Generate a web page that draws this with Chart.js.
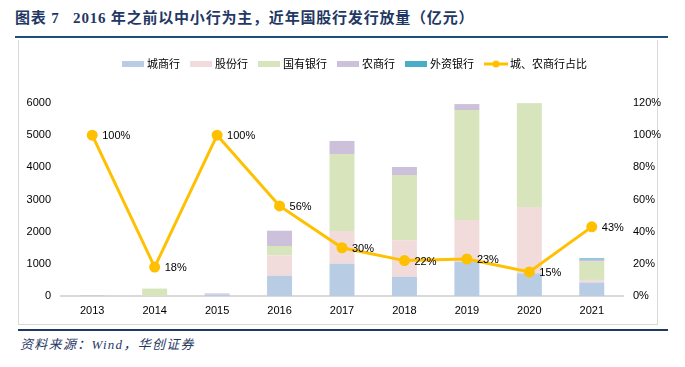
<!DOCTYPE html>
<html>
<head>
<meta charset="utf-8">
<script src="https://cdn.jsdelivr.net/npm/chart.js@4.4.0/dist/chart.umd.min.js"></script>
<style>
  html,body{margin:0;padding:0;background:#fff;}
  body{width:685px;height:367px;position:relative;overflow:hidden;font-family:"Liberation Sans","Noto Sans CJK SC",sans-serif;}
  #title{position:absolute;left:15px;top:6px;font:bold 15px "Liberation Serif","Noto Sans CJK SC",serif;color:#1f3864;white-space:pre;letter-spacing:0.8px;}
  #tline{position:absolute;left:15px;top:36px;width:653px;height:2px;background:#1f4e79;}
  #box{position:absolute;left:18px;top:40px;width:640px;height:285px;border:1px solid #d9d9d9;box-sizing:border-box;border-top:none;}
  #fline{position:absolute;left:18px;top:329px;width:650px;height:2px;background:#1f3864;}
  #source{position:absolute;left:20px;top:334px;font:italic 13px "Liberation Serif","Noto Sans CJK SC",serif;color:#1f3864;white-space:pre;letter-spacing:1.3px;}
  #wrap{position:absolute;left:0;top:0;width:685px;height:367px;}
</style>
</head>
<body>
<div id="title">图表 7   2016 年之前以中小行为主，近年国股行发行放量（亿元）</div>
<div id="tline"></div>
<div id="box"></div>
<div id="fline"></div>
<div id="source">资料来源：Wind，华创证券</div>
<div id="wrap"><canvas id="c" width="685" height="367"></canvas></div>
<script>
const categories = ['2013','2014','2015','2016','2017','2018','2019','2020','2021'];
const cityBanks    = [0, 0, 50, 630, 1005, 600, 1067, 705, 420];
const jointStock   = [0, 0, 0, 635, 1015, 1130, 1295, 2060, 80];
const stateOwned   = [0, 230, 0, 290, 2395, 2030, 3420, 3225, 570];
const ruralBanks   = [15, 0, 30, 475, 405, 250, 185, 40, 60];
const foreignBanks = [0, 0, 0, 0, 0, 0, 0, 0, 40];
const ratio        = [100, 18, 100, 56, 30, 22, 23, 15, 43];
const leftTicks  = [0, 1000, 2000, 3000, 4000, 5000, 6000];
const rightTicks = [0, 20, 40, 60, 80, 100, 120];

const seriesNames = ['城商行','股份行','国有银行','农商行','外资银行','城、农商行占比'];
const colors = ['#b8cce4','#f2dcdb','#d7e4bc','#ccc0da','#4bacc6','#ffc000'];

const barSets = [cityBanks, jointStock, stateOwned, ruralBanks, foreignBanks].map((d,i)=>({
  type:'bar', label: seriesNames[i], data: d, backgroundColor: colors[i],
  stack:'s', yAxisID:'y', order: 2, barPercentage: 0.4, categoryPercentage: 1.0
}));

const lineSet = {
  type:'line', label: seriesNames[5], data: ratio, yAxisID:'y1', order: 0,
  borderColor: colors[5], backgroundColor: colors[5], borderWidth: 3,
  pointRadius: 4, pointHoverRadius: 4, tension: 0
};

const legendPlugin = {
  id:'customLegend',
  afterDraw(chart){
    const ctx = chart.ctx;
    ctx.save();
    ctx.font = '11px "Noto Sans CJK SC", sans-serif';
    ctx.textBaseline = 'middle';
    let x = 122; const y = 64;
    seriesNames.forEach((name,i)=>{
      if(i<5){
        ctx.fillStyle = colors[i];
        ctx.fillRect(x, y-3, 22, 6);
        x += 25;
      } else {
        ctx.strokeStyle = colors[i]; ctx.lineWidth = 3;
        ctx.beginPath(); ctx.moveTo(x, y); ctx.lineTo(x+24, y); ctx.stroke();
        ctx.fillStyle = colors[i];
        ctx.beginPath(); ctx.arc(x+12, y, 3.5, 0, Math.PI*2); ctx.fill();
        x += 26;
      }
      ctx.fillStyle = '#000';
      ctx.fillText(name, x, y);
      x += ctx.measureText(name).width + 10;
    });
    ctx.restore();
  }
};

const labelPlugin = {
  id:'pctLabels',
  afterDatasetsDraw(chart){
    const idx = chart.data.datasets.indexOf(lineSet);
    const meta = chart.getDatasetMeta(idx);
    const ctx = chart.ctx;
    ctx.save();
    ctx.font = '11px "Liberation Sans", Arial, sans-serif';
    ctx.fillStyle = '#000';
    ctx.textBaseline = 'middle';
    ctx.textAlign = 'left';
    meta.data.forEach((pt,i)=>{
      ctx.fillText(ratio[i] + '%', pt.x + 10, pt.y + 1);
    });
    ctx.restore();
  }
};

new Chart(document.getElementById('c'), {
  data: { labels: categories, datasets: [...barSets, lineSet] },
  options: {
    responsive:false, animation:false,
    layout:{ padding:{ top:103, left:0, right:0, bottom:0 } },
    plugins:{ legend:{display:false}, tooltip:{enabled:false} },
    scales:{
      x:{
        stacked:true, offset:true,
        grid:{display:false, drawTicks:false},
        border:{display:true, color:'#d9d9d9', width:2},
        ticks:{ color:'#000', font:{size:11, family:'"Liberation Sans", Arial, sans-serif'}, padding:8, maxRotation:0 },
        afterFit(s){ s.height = 71; }
      },
      y:{
        stacked:true, position:'left', min:0, max:6000,
        afterBuildTicks(s){ s.ticks = leftTicks.map(v=>({value:v})); },
        grid:{display:false, drawTicks:false},
        border:{display:false},
        ticks:{ color:'#000', font:{size:11, family:'"Liberation Sans", Arial, sans-serif'}, padding:10, callback:v=>String(v) },
        afterFit(s){ s.width = 61; }
      },
      y1:{
        position:'right', min:0, max:120,
        afterBuildTicks(s){ s.ticks = rightTicks.map(v=>({value:v})); },
        grid:{display:false, drawTicks:false},
        border:{display:false},
        ticks:{ color:'#000', font:{size:11, family:'"Liberation Sans", Arial, sans-serif'}, padding:10, callback:v=>v+'%' },
        afterFit(s){ s.width = 62; }
      }
    }
  },
  plugins:[legendPlugin, labelPlugin]
});
</script>
</body>
</html>
